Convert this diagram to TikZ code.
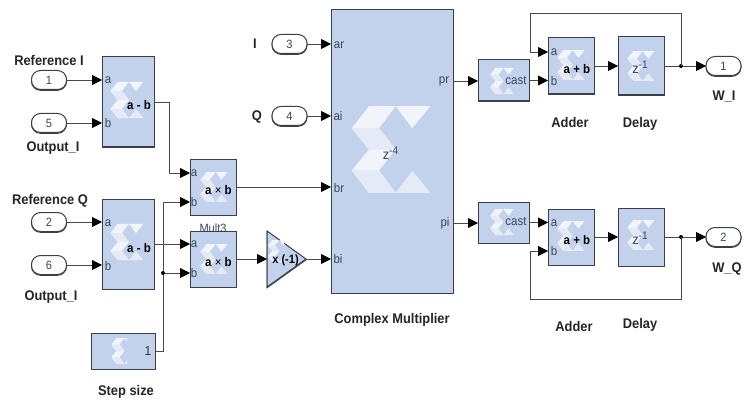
\documentclass[tikz,border=0pt]{standalone}
\usepackage{fontspec}
\setmainfont[FakeStretch=.92]{Liberation Sans}
\usetikzlibrary{arrows.meta}
\definecolor{blk}{HTML}{C3D2EC}
\definecolor{edge}{HTML}{3A4048}
\definecolor{wire}{HTML}{4A4A4A}
\definecolor{porttxt}{HTML}{3A4658}
\definecolor{lgA}{HTML}{F1F4FB}
\definecolor{lgB}{HTML}{E4EAF6}
\newcommand{\fs}[1]{\fontsize{#1}{#1}\selectfont}
\newcommand{\zpow}[1]{{\fs{14}z}\raisebox{5pt}{\fs{11}#1}}
\tikzset{
  thick edge/.style={preaction={draw=edge,line width=1pt,transform canvas={yshift=-.8pt}}},
  block/.style={draw=edge,fill=blk,line width=1pt,inner sep=0pt,outer sep=0pt,thick edge},
  port/.style={draw=edge,fill=white,line width=1pt,rounded corners=9pt,inner sep=0pt,outer sep=0pt,minimum width=35pt,minimum height=19pt,text=porttxt,font=\fs{12},thick edge},
  wirel/.style={draw=wire,line width=.8pt},
  arr/.style={wirel,-{Triangle[length=10pt,width=10pt,color=black]}},
  dot/.style={circle,fill=black,inner sep=0pt,minimum size=4pt},
  lab/.style={font=\fs{14}\bfseries,text=black!85,inner sep=0pt},
  pl/.style={font=\fs{12.5},text=porttxt,inner sep=0pt},
  op/.style={font=\fs{12.5}\bfseries,text=black,inner sep=0pt},
  pics/xlogo/.style={code={
    \fill[lgA] (-66,-130)--(14,-130)--(-36,-64)--(14,0)--(-36,63)--(14,130)--(-66,130)--(-118,63)--(-66,0)--(-118,-64)--cycle;
    \fill[lgA] (14,-130)--(118,-130)--(64,-64)--cycle;
    \fill[lgB] (-118,-64)--(-36,-64)--(14,0)--(-66,0)--cycle;
    \fill[lgB] (-118,63)--(-36,63)--(14,130)--(-66,130)--cycle;
    \fill[lgB] (14,130)--(118,130)--(64,64)--cycle;
  }}
}
\begin{document}
\begin{tikzpicture}[x=1pt,y=-1pt]
\useasboundingbox[fill=white] (0,0) rectangle (744,401);
% clipped label sits behind block below
\node[font=\fs{12},text=porttxt,inner sep=0pt] (mult3) at (213,228) {Mult3};
% blocks
\node[block,minimum width=52pt,minimum height=90pt] (sub1) at (128,102) {};
\node[block,minimum width=52pt,minimum height=90pt] (sub2) at (128,244) {};
\node[block,minimum width=46pt,minimum height=56pt] (mul1) at (213,187) {};
\node[block,minimum width=46pt,minimum height=56pt] (mul2) at (213,259) {};
\node[block,minimum width=64pt,minimum height=36pt] (const) at (123,351) {};
\node[block,minimum width=122pt,minimum height=283pt] (cm) at (392,151.5) {};
\node[block,minimum width=51pt,minimum height=41pt] (cast1) at (503.5,80.5) {};
\node[block,minimum width=51pt,minimum height=41pt] (cast2) at (503.5,222.5) {};
\node[block,minimum width=46pt,minimum height=56pt] (add1) at (571,66) {};
\node[block,minimum width=46pt,minimum height=56pt] (add2) at (571,237) {};
\node[block,minimum width=46pt,minimum height=58pt] (del1) at (641,66) {};
\node[block,minimum width=46pt,minimum height=58pt] (del2) at (641,237) {};
\draw[block] (267,231) -- (306,259) -- (267,287) -- cycle;
\coordinate (trileft) at (267,259);
\coordinate (tritip) at (306,259);
% logos
\pic[scale=.14] at (127,100) {xlogo};
\pic[scale=.14] at (127,242) {xlogo};
\pic[scale=.115] at (214,187) {xlogo};
\pic[scale=.115] at (214,259) {xlogo};
\pic[scale=.1] at (502,81) {xlogo};
\pic[scale=.1] at (502,222) {xlogo};
\pic[scale=.115] at (571,65) {xlogo};
\pic[scale=.115] at (571,236) {xlogo};
\pic[scale=.115] at (641,66) {xlogo};
\pic[scale=.115] at (641,235) {xlogo};
\pic[scale=.333] at (391,149.5) {xlogo};
\begin{scope}
\clip (112,338) rectangle (127,364);
\pic[scale=.1] at (123,351) {xlogo};
\end{scope}
\begin{scope}
\clip (268,240) rectangle (284,262);
\pic[scale=.085] at (278,251) {xlogo};
\end{scope}
% ports
\node[port] (in1) at (49,80) {1};
\node[port] (in5) at (49,123) {5};
\node[port] (in2) at (49,222) {2};
\node[port] (in6) at (49,265) {6};
\node[port] (in3) at (289.5,44) {3};
\node[port] (in4) at (289.5,116) {4};
\node[port] (out1) at (723.5,66) {1};
\node[port] (out2) at (723.5,237) {2};
% port coordinates
\coordinate (sub1o) at (154,102);
\coordinate (sub2o) at (154,244);
\coordinate (consto) at (155,351);
\coordinate (bus) at (163,273);
\coordinate (busTop) at (163,202);
\coordinate (busBot) at (163,351);
\coordinate (sub1r) at (169,102);
\coordinate (mul1a) at (190,173);
\coordinate (mul1b) at (190,202);
\coordinate (mul2a) at (190,244);
\coordinate (mul2b) at (190,273);
\coordinate (pr) at (453,81);
\coordinate (pi) at (453,223);
\coordinate (add1a) at (548,52);
\coordinate (add2b) at (548,251);
\coordinate (j1) at (681,66);
\coordinate (j2) at (681,237);
% wires
\draw[arr] (in1.east) -- (in1.east -| sub1.west);
\draw[arr] (in5.east) -- (in5.east -| sub1.west);
\draw[arr] (in2.east) -- (in2.east -| sub2.west);
\draw[arr] (in6.east) -- (in6.east -| sub2.west);
\draw[arr] (in3.east) -- (in3.east -| cm.west);
\draw[arr] (in4.east) -- (in4.east -| cm.west);
\draw[arr] (sub1o) -- (sub1r) -- (sub1r |- mul1a) -- (mul1a);
\draw[arr] (sub2o) -- (mul2a);
\draw[arr] (consto) -- (busBot) -- (busTop) -- (mul1b);
\draw[arr] (bus) -- (mul2b);
\node[dot] (busdot) at (bus) {};
\draw[arr] (mul1.east) -- (mul1.east -| cm.west);
\draw[arr] (mul2.east) -- (trileft);
\draw[arr] (tritip) -- (tritip -| cm.west);
\draw[arr] (pr) -- (pr -| cast1.west);
\draw[arr] (pi) -- (pi -| cast2.west);
\draw[arr] (cast1.east) -- (cast1.east -| add1.west);
\draw[arr] (cast2.east) -- (cast2.east -| add2.west);
\draw[arr] (add1.east) -- (del1.west);
\draw[arr] (add2.east) -- (del2.west);
\draw[arr] (del1.east) -- (out1.west);
\draw[arr] (del2.east) -- (out2.west);
\node[dot] (dot1) at (j1) {};
\node[dot] (dot2) at (j2) {};
\draw[arr] (dot1.center) -- (681,13) -- (530,13) -- (530,52) -- (add1a);
\draw[arr] (dot2.center) -- (681,299) -- (530,299) -- (530,251) -- (add2b);
% port labels
\node[pl] at (108,80) {a};
\node[pl] at (108,123) {b};
\node[pl] at (108,223) {a};
\node[pl] at (108,266) {b};
\node[pl] at (194,173) {a};
\node[pl] at (194,202) {b};
\node[pl] at (194,244) {a};
\node[pl] at (194,273) {b};
\node[pl] at (554,52) {a};
\node[pl] at (554,81) {b};
\node[pl] at (554,223) {a};
\node[pl] at (554,251) {b};
\node[pl] at (339,45) {ar};
\node[pl] at (338,116) {ai};
\node[pl] at (339,188) {br};
\node[pl] at (338,259) {bi};
\node[pl] at (444,81) {pr};
\node[pl] at (445,223) {pi};
\node[pl] at (516,81) {cast};
\node[pl] at (516,222) {cast};
\node[font=\fs{13},text=black!80,inner sep=0pt] at (148,351) {1};
\node[text=porttxt,inner sep=0pt] at (390.5,153) {\zpow{-4}};
\node[text=porttxt,inner sep=0pt] at (640,67) {\zpow{-1}};
\node[text=porttxt,inner sep=0pt] at (640,238) {\zpow{-1}};
% operators
\node[op] at (139,105) {a - b};
\node[op] at (139,248) {a - b};
\node[op] at (218.5,190) {a {\mdseries ×} b};
\node[op] at (218.5,262) {a {\mdseries ×} b};
\node[op] at (577,69) {a + b};
\node[op] at (577,240) {a + b};
\node[op,font=\fs{12}\bfseries] at (285.5,260) {x (-1)};
% captions
\node[lab] at (49,60) {Reference I};
\node[lab] at (53,148) {Output\_I};
\node[lab] at (50,201) {Reference Q};
\node[lab] at (51,297) {Output\_I};
\node[lab] at (126,392) {Step size};
\node[lab] at (255,44) {I};
\node[lab] at (257,117) {Q};
\node[lab] at (392,320) {Complex Multiplier};
\node[lab] at (570,122) {Adder};
\node[lab] at (640,124) {Delay};
\node[lab] at (724,97) {W\_I};
\node[lab] at (727,269) {W\_Q};
\node[lab] at (574,326) {Adder};
\node[lab] at (640,325) {Delay};
\end{tikzpicture}
\end{document}
